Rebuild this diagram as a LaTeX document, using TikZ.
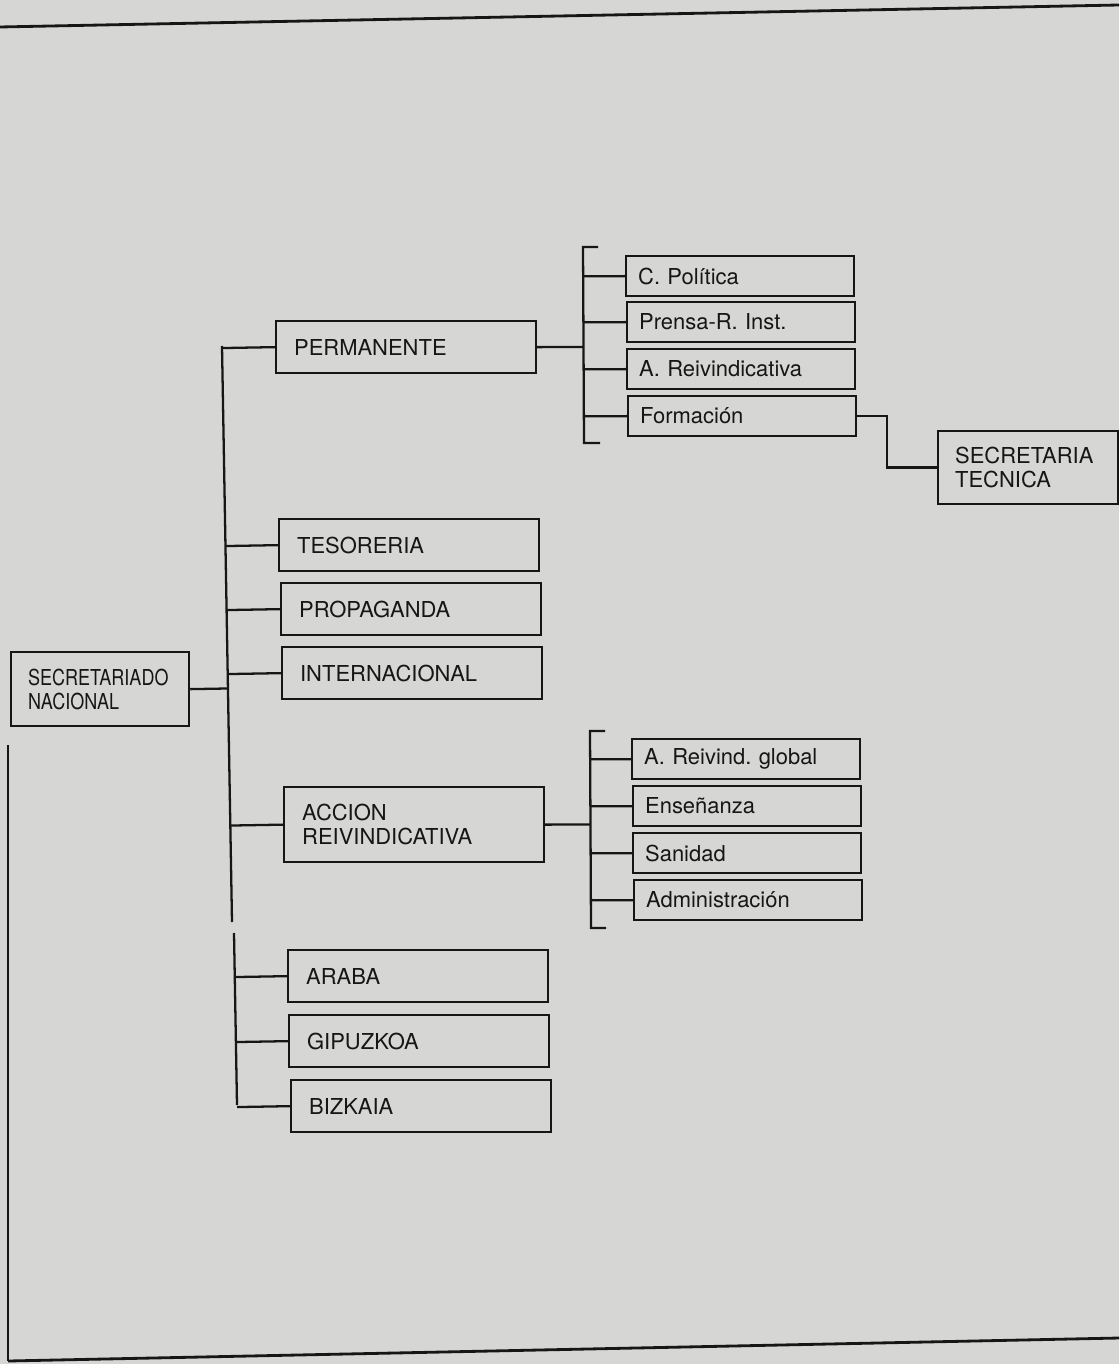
\documentclass[tikz,border=0pt]{standalone}
\usepackage{fontspec}
\setmainfont{TeX Gyre Heros}
\newfontfamily\narrowfont[FakeStretch=0.82]{TeX Gyre Heros}
\usetikzlibrary{calc}
\frenchspacing

\definecolor{paper}{RGB}{214,214,212}
\definecolor{ink}{RGB}{22,22,22}

\tikzset{
  organo/.style={draw=ink, line width=1.3pt, anchor=north west,
    minimum height=1.04cm, text width=4.48cm, inner xsep=0.36cm, inner ysep=0pt,
    align=left, text=ink, font=\fontsize{12.5}{13.5}\selectfont},
  comision/.style={organo, minimum height=0.8cm, text width=4.08cm, inner xsep=0.24cm},
  enlace/.style={draw=ink, line width=1.3pt},
}

\begin{document}
\begin{tikzpicture}[x=0.02cm, y=-0.02cm]

% papel y marco
\fill[paper] (0,0) rectangle (1119,1364);
\useasboundingbox (0,0) rectangle (1119,1364);
\draw[enlace, line width=1.6pt] (0,27) -- (1119,5);
\draw[enlace] (8,745) -- (8,1361);
\draw[enlace, line width=1.6pt] (8,1361) -- (1119,1338);

% secretariado
\node[organo, minimum height=1.48cm, text width=2.88cm, inner xsep=0.34cm,
  font=\narrowfont\fontsize{12.5}{13.5}\selectfont] (nacional) at (10,651) {SECRETARIADO\\NACIONAL};

% secretarias
\node[organo] (permanente) at (275,320) {PERMANENTE};
\node[organo] (tesoreria) at (278,518) {TESORERIA};
\node[organo] (propaganda) at (280,582) {PROPAGANDA};
\node[organo] (internacional) at (281,646) {INTERNACIONAL};
\node[organo, minimum height=1.5cm] (accion) at (283,786) {ACCION\\REIVINDICATIVA};
\node[organo] (araba) at (287,949) {ARABA};
\node[organo] (gipuzkoa) at (288,1014) {GIPUZKOA};
\node[organo] (bizkaia) at (290,1079) {BIZKAIA};

% comisiones de la permanente
\node[comision] (cpolitica) at (625,255) {C. Política};
\node[comision] (prensa) at (626,301) {Prensa-R. Inst.};
\node[comision] (areiv) at (626,348) {A. Reivindicativa};
\node[comision] (formacion) at (627,395) {Formación};
\node[organo, minimum height=1.46cm, text width=2.92cm, inner xsep=0.34cm] (tecnica) at (937,430) {SECRETARIA\\TECNICA};

% comisiones de accion reivindicativa
\node[comision] (global) at (631,738) {A. Reivind. global};
\node[comision] (ensenanza) at (632,785) {Enseñanza};
\node[comision] (sanidad) at (632,832) {Sanidad};
\node[comision] (admin) at (633,879) {Administración};

% eje principal
\coordinate (ejeA) at (222,346);
\coordinate (ejeB) at (232,922);
\coordinate (ejeC) at (234,933);
\coordinate (ejeD) at (237,1105);
\draw[enlace] (ejeA) -- (ejeB);
\draw[enlace] (ejeC) -- (ejeD);
\draw[enlace] (nacional.east) -- ($(ejeA)!(nacional.east)!(ejeB)$);
\foreach \n in {permanente, tesoreria, propaganda, internacional, accion}
  \draw[enlace] (\n.west) -- ($(ejeA)!(\n.west)!(ejeB)$);
\foreach \n in {araba, gipuzkoa, bizkaia}
  \draw[enlace] (\n.west) -- ($(ejeC)!(\n.west)!(ejeD)$);

% llave de la permanente
\coordinate (llaveA1) at (583,247);
\coordinate (llaveA2) at (584,443);
\coordinate (puntaA1) at (598,247);
\coordinate (puntaA2) at (600,443);
\draw[enlace] (puntaA1) -- (llaveA1) -- (llaveA2) -- (puntaA2);
\draw[enlace] (permanente.east) -- ($(llaveA1)!(permanente.east)!(llaveA2)$);
\foreach \n in {cpolitica, prensa, areiv, formacion}
  \draw[enlace] (\n.west) -- ($(llaveA1)!(\n.west)!(llaveA2)$);

% formacion -> secretaria tecnica
\coordinate (codo) at (887,440);
\draw[enlace] (formacion.east) -- (formacion.east -| codo) -- (tecnica.west -| codo) -- (tecnica.west);

% llave de accion reivindicativa
\coordinate (llaveB1) at (590,731);
\coordinate (llaveB2) at (591,928);
\coordinate (puntaB1) at (605,731);
\coordinate (puntaB2) at (606,928);
\draw[enlace] (puntaB1) -- (llaveB1) -- (llaveB2) -- (puntaB2);
\draw[enlace] (accion.east) -- ($(llaveB1)!(accion.east)!(llaveB2)$);
\foreach \n in {global, ensenanza, sanidad, admin}
  \draw[enlace] (\n.west) -- ($(llaveB1)!(\n.west)!(llaveB2)$);

\end{tikzpicture}
\end{document}
